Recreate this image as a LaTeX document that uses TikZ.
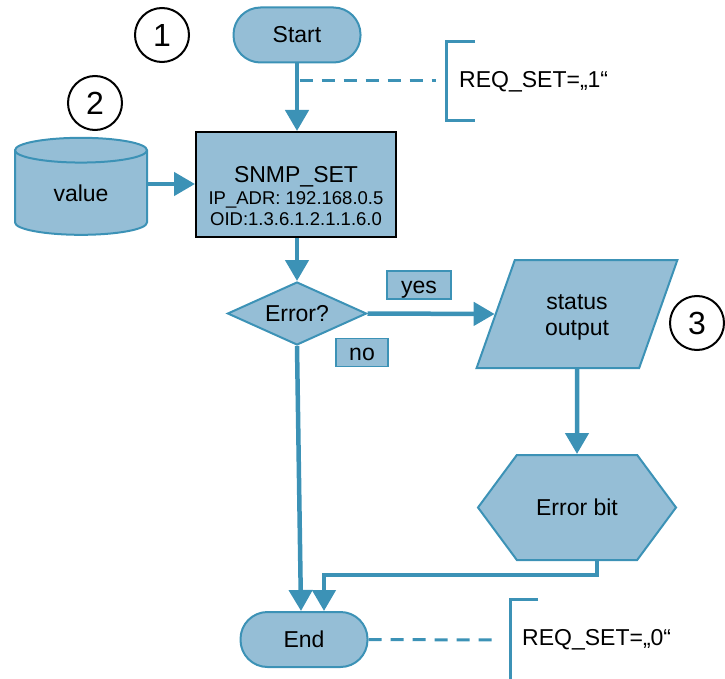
\documentclass[tikz,border=0pt]{standalone}
\usepackage{fontspec}
\setmainfont{Liberation Sans}
\usetikzlibrary{shapes.geometric,shapes.symbols,arrows.meta}
\definecolor{boxfill}{RGB}{149,190,214}
\definecolor{flow}{RGB}{60,146,182}
\begin{document}
\begin{tikzpicture}[x=1pt,y=-1pt,
  every node/.style={font=\fontsize{23}{27}\selectfont, text=black},
  shapebase/.style={fill=boxfill, draw=flow, line width=2pt, inner sep=0pt},
  term/.style={shapebase, rounded corners=27pt, minimum width=127pt, minimum height=55pt},
  tagbox/.style={shapebase, line width=1.3pt, minimum height=28pt, text height=20pt, text depth=4pt},
  numcircle/.style={circle, draw=black, line width=2pt, minimum size=54pt, inner sep=0pt, font=\fontsize{32}{36}\selectfont},
  flowarrow/.style={draw=flow, line width=4.5pt, -{Triangle[length=21pt,width=23pt]}},
  dashline/.style={draw=flow, line width=3pt, dash pattern=on 13pt off 9pt},
  bracket/.style={draw=flow, line width=3pt}
]
\useasboundingbox (0,0) rectangle (725,679);

% nodes
\node[term] (start) at (297,35) {Start};
\node[shapebase, draw=black, minimum width=200pt, minimum height=105pt] (snmp) at (296,184.5)
  {\smash{\raisebox{-20pt}{\begin{tabular}{@{}c@{}}SNMP\_SET\\[-5pt]\fontsize{18.5}{21}\selectfont IP\_ADR: 192.168.0.5\\[-6pt]\fontsize{18.5}{21}\selectfont OID:1.3.6.1.2.1.1.6.0\end{tabular}}}};
\node[shapebase, cylinder, shape border rotate=90, aspect=0.45, minimum width=132pt, minimum height=97pt] (val) at (81,193) {value};
\node[shapebase, diamond, aspect=2.2, minimum width=139pt, minimum height=63pt] (err) at (297,313.5) {Error?};
\node[tagbox, minimum width=64pt] (yes) at (419,285) {yes};
\node[tagbox, minimum width=52pt] (no) at (362,352.5) {no};
\node[shapebase, trapezium, trapezium left angle=70, trapezium right angle=110, trapezium stretches=true,
  minimum width=201pt, minimum height=108pt, font=\fontsize{23}{28}\selectfont] (stat) at (577,314)
  {\raisebox{-3pt}[\height][\depth]{\begin{tabular}{@{}c@{}}status\\[-2pt]output\end{tabular}}};
\node[shapebase, signal, signal to=west and east, signal pointer angle=107, minimum width=198pt, minimum height=105pt] (errbit) at (577,507.5) {Error bit};
\node[term] (end) at (304,639.5) {End};

\node[numcircle] (n1) at (162,35) {1};
\node[numcircle] (n2) at (95,103) {2};
\node[numcircle] (n3) at (697,323) {3};

\node[anchor=west, inner sep=0pt] (req1) at (459,82) {REQ\_SET=„1“};
\node[anchor=west, inner sep=0pt] (req0) at (522,640) {REQ\_SET=„0“};

% connectors
\draw[flowarrow] (start.south) -- (start.south |- snmp.north);
\draw[flowarrow] (val.east |- 0,184) -- (snmp.west |- 0,184);
\draw[flowarrow] (snmp.south -| err.north) -- (err.north);
\draw[flowarrow] (err.east) -- (stat.west);
\draw[flowarrow] (stat.south) -- (errbit.north);
\draw[flowarrow] (err.south) -- ([xshift=-3pt]end.north);
\draw[flowarrow] ([xshift=20pt]errbit.south) -- ++(0,14) -| ([xshift=20pt]end.north);

% annotations
\coordinate (d1) at (436,81);
\draw[dashline] (299.5,81) -- (d1);
\draw[bracket] (475,42) -- (446,42) -- (446,121) -- (475,121);
\coordinate (d0) at (498,640);
\draw[dashline] (end.east) -- (d0);
\draw[bracket] (538,599) -- (510,599) -- (510,685);
\end{tikzpicture}
\end{document}
